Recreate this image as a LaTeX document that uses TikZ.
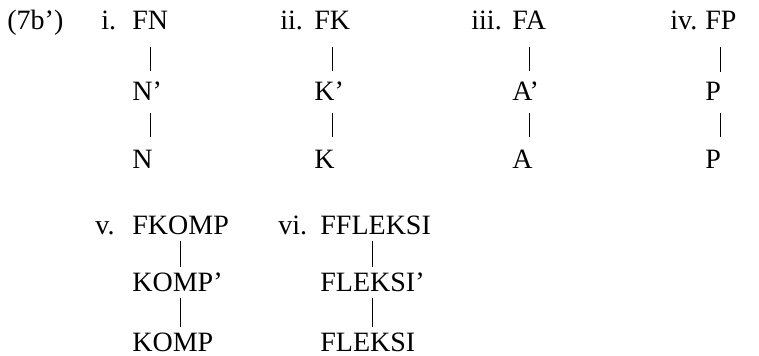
\documentclass[tikz,border=0pt]{standalone}
\usepackage{fontspec}
\setmainfont{Liberation Serif}
\usepackage{tikz}
\usetikzlibrary{positioning,calc}
\tikzset{
    cat/.style={anchor=base west, inner sep=0pt, font=\fontsize{14}{16}\selectfont},
    branch/.style={line width=0.5pt, black}
}

\begin{document}
\begin{tikzpicture}[x=0.5pt, y=-0.5pt]
    \useasboundingbox (0,0) rectangle (759,356);
    \node[cat] (ex) at (7,30) {(7b')};

    % Upper row
    \node[cat] (li) at (101,30) {i.};
    \node[cat] (fn) at (132,30) {FN};
    \node[cat] (nbar) at (132,101) {N'};
    \node[cat] (n) at (132,169) {N};

    \node[cat] (lii) at (280,30) {ii.};
    \node[cat] (fk) at (314,30) {FK};
    \node[cat] (kbar) at (314,101) {K'};
    \node[cat] (k) at (314,169) {K};

    \node[cat] (liii) at (471,30) {iii.};
    \node[cat] (fa) at (512,30) {FA};
    \node[cat] (abar) at (512,101) {A'};
    \node[cat] (a) at (512,169) {A};

    \node[cat] (liv) at (670,30) {iv.};
    \node[cat] (fp) at (705,30) {FP};
    \node[cat] (pbar) at (705,101) {P};
    \node[cat] (p) at (705,169) {P};

    % Lower row
    \node[cat] (lv) at (95,235) {v.};
    \node[cat] (fkomp) at (132,235) {FKOMP};
    \node[cat] (kompbar) at (132,292) {KOMP'};
    \node[cat] (komp) at (132,352) {KOMP};

    \node[cat] (lvi) at (278,235) {vi.};
    \node[cat] (ffleksi) at (320,235) {FFLEKSI};
    \node[cat] (fleksibar) at (320,292) {FLEKSI'};
    \node[cat] (fleksi) at (320,352) {FLEKSI};

    % Branches
    \draw[branch, shorten <=8.5pt, shorten >=5.3pt] (fn.south) -- (fn.south |- nbar.north);
    \draw[branch, shorten <=6pt, shorten >=6.5pt] (fn.south |- nbar.south) -- (fn.south |- n.north);
    \draw[branch, shorten <=8.5pt, shorten >=5.3pt] (fk.south) -- (fk.south |- kbar.north);
    \draw[branch, shorten <=6pt, shorten >=6.5pt] (fk.south |- kbar.south) -- (fk.south |- k.north);
    \draw[branch, shorten <=8.5pt, shorten >=5.3pt] (fa.south) -- (fa.south |- abar.north);
    \draw[branch, shorten <=6pt, shorten >=6.5pt] (fa.south |- abar.south) -- (fa.south |- a.north);
    \draw[branch, shorten <=8.5pt, shorten >=5.3pt] (fp.south) -- (fp.south |- pbar.north);
    \draw[branch, shorten <=6pt, shorten >=6.5pt] (fp.south |- pbar.south) -- (fp.south |- p.north);

    \draw[branch, shorten <=2.5pt, shorten >=2.8pt] (fkomp.south) -- (fkomp.south |- kompbar.north);
    \draw[branch, shorten <=2.5pt, shorten >=3pt] (fkomp.south |- kompbar.south) -- (fkomp.south |- komp.north);
    \draw[branch, shorten <=2.5pt, shorten >=2.8pt] (fleksibar.north |- ffleksi.south) -- (fleksibar.north);
    \draw[branch, shorten <=2.5pt, shorten >=3pt] (fleksibar.south) -- (fleksibar.south |- fleksi.north);
\end{tikzpicture}
\end{document}
